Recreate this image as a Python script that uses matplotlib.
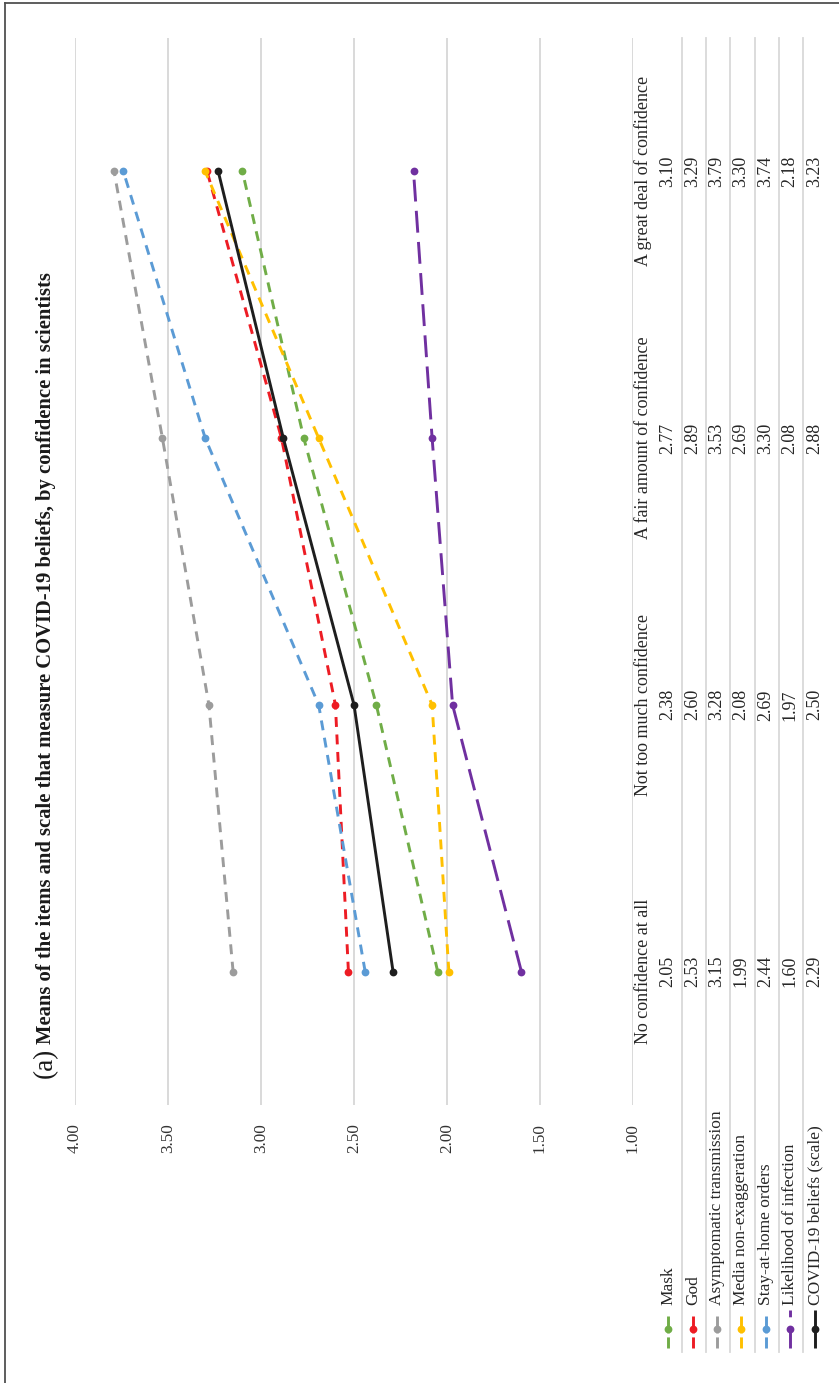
import matplotlib
matplotlib.use("Agg")
import matplotlib.pyplot as plt
from matplotlib import transforms as mtransforms

# ---------------- data ----------------
categories = ["No confidence at all", "Not too much confidence",
              "A fair amount of confidence", "A great deal of confidence"]
series_names = ["Mask", "God", "Asymptomatic transmission", "Media non-exaggeration",
                "Stay-at-home orders", "Likelihood of infection", "COVID-19 beliefs (scale)"]
mask = [2.05, 2.38, 2.77, 3.10]
god = [2.53, 2.60, 2.89, 3.29]
asymptomatic = [3.15, 3.28, 3.53, 3.79]
media = [1.99, 2.08, 2.69, 3.30]
stay_home = [2.44, 2.69, 3.30, 3.74]
likelihood = [1.60, 1.97, 2.08, 2.18]
covid_scale = [2.29, 2.50, 2.88, 3.23]
value_ticks = [1.00, 1.50, 2.00, 2.50, 3.00, 3.50, 4.00]
tick_labels = ["1.00", "1.50", "2.00", "2.50", "3.00", "3.50", "4.00"]

series_values = [mask, god, asymptomatic, media, stay_home, likelihood, covid_scale]
colors = ["#70AD47", "#ED1C24", "#9C9C9C", "#FFC000", "#5B9BD5", "#7030A0", "#1E1E1E"]
dash = (0, (3.4, 2.6))
longdash = (0, (7.5, 3.2))
styles = [dash, dash, dash, dash, dash, longdash, "-"]
key_dash = (0, (3.8, 1.4, 5.9, 10))
key_styles = [key_dash] * 5 + [longdash, "-"]
key_ends = [1316] * 5 + [1310, 1310]

W, H = 839, 1383
plt.rcParams['font.family'] = ['Liberation Serif', 'DejaVu Serif']
fig = plt.figure(figsize=(W / 100, H / 100), dpi=100)

def fx(px):
    return px / W

def fy(py):
    return 1 - py / H

TXT = '#262626'

# main plot area (chart is rotated: value axis horizontal, 4 at left)
ax_l, ax_r, ax_t, ax_b = 75, 633, 38, 1105
ax = fig.add_axes([fx(ax_l), fy(ax_b), fx(ax_r - ax_l), (ax_b - ax_t) / H])
ax.set_xlim(4.0, 1.0)
ax.set_ylim(-0.5, len(categories) - 0.5)
ypos = list(range(len(categories)))
for vals, c, ls in zip(series_values, colors, styles):
    ax.plot(vals, ypos, color=c, linestyle=ls, lw=2.1, marker='o', ms=5.6,
            markeredgewidth=0, solid_capstyle='butt', dash_capstyle='butt', zorder=3)
ax.set_xticks(value_ticks)
ax.set_xticklabels(tick_labels, rotation=90, fontsize=12.3, color='#333333')
ax.tick_params(axis='x', length=0, pad=13)
ax.set_yticks([])
ax.grid(axis='x', color='#D9D9D9', lw=1.4)
ax.set_axisbelow(True)
for s in ax.spines.values():
    s.set_visible(False)

# overlay in pixel coordinates for the rotated data table, legend and title
ov = fig.add_axes([0, 0, 1, 1], zorder=5)
ov.set_xlim(0, W)
ov.set_ylim(H, 0)
ov.axis('off')
ov.patch.set_alpha(0)

# frame
ov.plot([5, 5], [3, H], color='#505050', lw=1.3)
ov.plot([5, W], [3, 3], color='#505050', lw=1.3)

# table rule lines
for xl in [682, 706, 730, 755, 779, 803]:
    ov.plot([xl, xl], [38, 1352], color='#D9D9D9', lw=1.3, zorder=1)

blend = mtransforms.blended_transform_factory(ov.transData, ax.transData)
header_x = 643
row_x = [668, 693, 717, 741, 766, 790, 815]
for j, cat in enumerate(categories):
    ax.text(header_x, j, cat, transform=blend, rotation=90, ha='center', va='center',
            fontsize=13, color=TXT, clip_on=False)
    for i, vals in enumerate(series_values):
        ax.text(row_x[i], j, f"{vals[j]:.2f}", transform=blend, rotation=90,
                ha='center', va='center', fontsize=13, color=TXT, clip_on=False)

# legend keys and names
for i, (name, c, ls) in enumerate(zip(series_names, colors, key_styles)):
    ov.plot([row_x[i], row_x[i]], [1348, key_ends[i]], color=c, linestyle=ls, lw=2.1,
            solid_capstyle='butt', dash_capstyle='butt')
    ov.plot([row_x[i]], [1329], marker='o', ms=5.6, color=c, markeredgewidth=0)
    ov.text(row_x[i], 1305, name, rotation=90, ha='center', va='bottom',
            fontsize=12.5, color=TXT)

# title
ov.text(45, 1078, "(a)", rotation=90, ha='center', va='bottom', fontsize=19.5, color='#1a1a1a')
ov.text(46, 1044, "Means of the items and scale that measure COVID-19 beliefs, by confidence in scientists",
        rotation=90, ha='center', va='bottom', fontsize=14.9, fontweight='bold', color='#1a1a1a')

fig.savefig("out.png", dpi=100)
